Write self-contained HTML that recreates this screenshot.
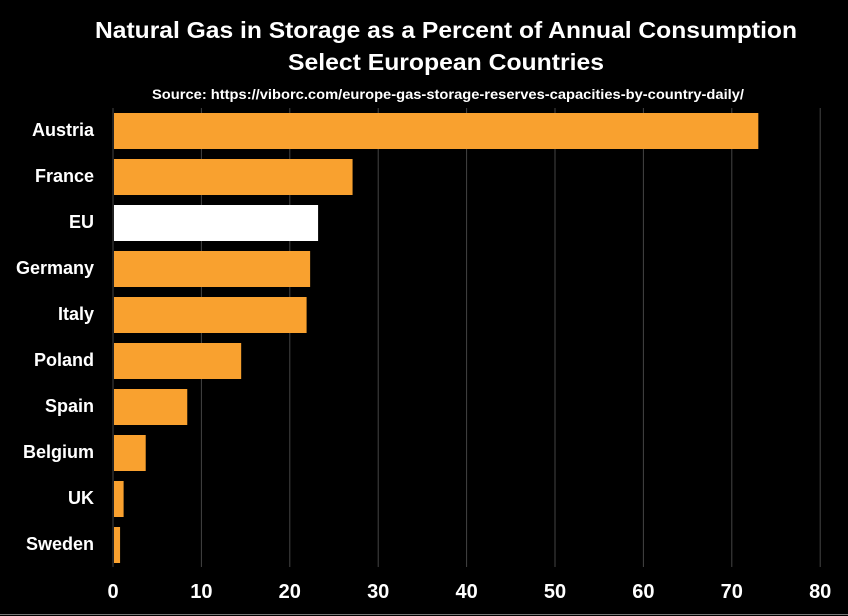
<!DOCTYPE html>
<html><head><meta charset="utf-8"><style>
html,body{margin:0;padding:0;background:#000;}
svg{display:block;}
text{font-family:"Liberation Sans",sans-serif;fill:#fff;}
</style></head><body>
<svg id="chart" width="848" height="616" viewBox="0 0 848 616">
<rect x="0" y="0" width="848" height="616" fill="#000"/>
<text x="446" y="38" text-anchor="middle" font-size="23" font-weight="bold" textLength="702" lengthAdjust="spacingAndGlyphs">Natural Gas in Storage as a Percent of Annual Consumption</text>
<text x="446" y="70" text-anchor="middle" font-size="23" font-weight="bold" textLength="316" lengthAdjust="spacingAndGlyphs">Select European Countries</text>
<text x="448" y="99" text-anchor="middle" font-size="13.5" font-weight="bold" textLength="592" lengthAdjust="spacingAndGlyphs">Source: https://viborc.com/europe-gas-storage-reserves-capacities-by-country-daily/</text>
<g id="grid"></g>
<g id="bars"></g>
<g id="labels"></g>
<g id="ticks"></g>
<line x1="0" y1="614.5" x2="848" y2="614.5" stroke="#777" stroke-width="1"/>
</svg>
<script>
const categories = ["Austria","France","EU","Germany","Italy","Poland","Spain","Belgium","UK","Sweden"];
const values = [73, 27.1, 23.2, 22.3, 21.9, 14.5, 8.4, 3.7, 1.2, 0.8];
const tickValues = [0,10,20,30,40,50,60,70,80];
const highlight = "EU";

const NS = "http://www.w3.org/2000/svg";
const x0 = 113, pxPerUnit = 88.4/10;
const xScale = v => x0 + v * pxPerUnit;
const rowTop = 113, rowPitch = 46, barH = 36;
const yScale = i => rowTop + i * rowPitch;

const grid = document.getElementById('grid');
tickValues.forEach(t => {
  const l = document.createElementNS(NS,'line');
  l.setAttribute('x1', xScale(t)); l.setAttribute('x2', xScale(t));
  l.setAttribute('y1', 108); l.setAttribute('y2', 567);
  l.setAttribute('stroke', '#444'); l.setAttribute('stroke-width', '1');
  
  
  grid.appendChild(l);
  const tx = document.createElementNS(NS,'text');
  tx.setAttribute('x', xScale(t)); tx.setAttribute('y', 598);
  tx.setAttribute('text-anchor', 'middle'); tx.setAttribute('font-size', '20'); tx.setAttribute('font-weight','bold');
  tx.textContent = t;
  
  
  document.getElementById('ticks').appendChild(tx);
});

categories.forEach((c, i) => {
  const r = document.createElementNS(NS,'rect');
  r.setAttribute('x', xScale(0) + 1);
  r.setAttribute('y', yScale(i));
  r.setAttribute('width', Math.max(0, xScale(values[i]) - xScale(0) - 1));
  r.setAttribute('height', barH);
  r.setAttribute('fill', c === highlight ? '#ffffff' : '#f9a12f');
  
  
  document.getElementById('bars').appendChild(r);
  const t = document.createElementNS(NS,'text');
  t.setAttribute('x', 94); t.setAttribute('y', yScale(i) + barH/2 + 5);
  t.setAttribute('text-anchor', 'end'); t.setAttribute('font-size', '18'); t.setAttribute('font-weight','bold');
  t.textContent = c;
  
  
  document.getElementById('labels').appendChild(t);
});
</script>
</body></html>
